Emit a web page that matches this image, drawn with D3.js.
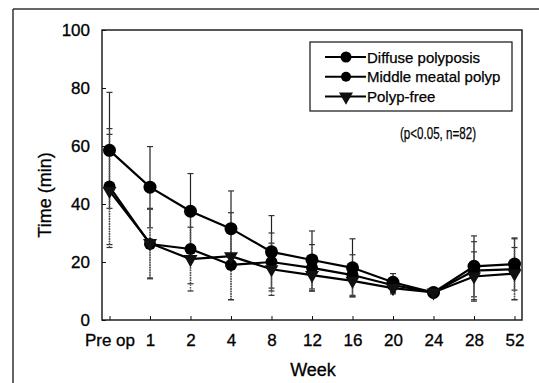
<!DOCTYPE html>
<html><head><meta charset="utf-8">
<script src="https://cdn.jsdelivr.net/npm/d3@7"></script>
<style>body{margin:0;background:#fff;} svg{display:block;}</style>
</head><body>
<svg id="c" width="539" height="383"></svg>
<script>
const categories = ["Pre op","1","2","4","8","12","16","20","24","28","52"];
const seriesNames = ["Diffuse polyposis","Middle meatal polyp","Polyp-free"];
const diffuseMean = [58.5,45.8,37.5,31.5,23.5,20.7,18,13,9.5,18.5,19.3];
const diffuseSD   = [20,14,13,13,12.5,10,10,3,0.3,10.5,9];
const middleMean  = [46,26.2,24.5,19,20,18,15.5,12,9.5,17,17.5];
const middleSD    = [20,12,12,12,10,8,7,2.5,0.3,10,10.5];
const freeMean    = [44.5,26.5,21,22,17.5,15.5,13.5,11,9.5,15,16];
const freeSD      = [19.5,12,11,15,9,5.5,5.5,2,0.3,8.5,9];
const yTicks = [0,20,40,60,80,100];
const annotation = "(p<0.05,  n=82)";

const font = "'Liberation Sans',Arial,sans-serif";
const svg = d3.select("#c");
const L=102,R=522,T=30,B=320;
const x = d3.scalePoint().domain(categories).range([L,R]).padding(0.185);
const y = d3.scaleLinear().domain([0,100]).range([B,T]);

// outer frame lines
svg.append("line").attr("x1",13).attr("x2",539).attr("y1",9).attr("y2",9).attr("stroke","#333").attr("stroke-width",1.5);
svg.append("line").attr("x1",13).attr("x2",13).attr("y1",9).attr("y2",383).attr("stroke","#333").attr("stroke-width",1.5);

// plot box
svg.append("rect").attr("x",L).attr("y",T).attr("width",R-L).attr("height",B-T).attr("fill","none").attr("stroke","#111").attr("stroke-width",1.4);

const yAxis = svg.append("g").attr("transform",`translate(${L},0)`)
  .call(d3.axisLeft(y).tickValues(yTicks).tickSize(-4).tickPadding(12));
yAxis.select(".domain").remove();
yAxis.selectAll("text").attr("font-family",font).attr("font-size",17).attr("fill","#000")
  .attr("stroke","#000").attr("stroke-width",0.3);
yAxis.selectAll("line").attr("stroke","#111");

const xAxis = svg.append("g").attr("transform",`translate(0,${B})`)
  .call(d3.axisBottom(x).tickSize(-4).tickPadding(14));
xAxis.select(".domain").remove();
xAxis.selectAll("text").attr("font-family",font).attr("font-size",17).attr("fill","#000")
  .attr("stroke","#000").attr("stroke-width",0.3);
xAxis.selectAll("line").attr("stroke","#111");

svg.append("text").attr("x",313).attr("y",376).attr("text-anchor","middle")
  .attr("font-family",font).attr("font-size",18).attr("stroke","#000").attr("stroke-width",0.3).text("Week");
svg.append("text").attr("transform","translate(51,195) rotate(-90)").attr("text-anchor","middle")
  .attr("font-family",font).attr("font-size",18).attr("stroke","#000").attr("stroke-width",0.3).text("Time (min)");

const series = [
  {name:seriesNames[0],mean:diffuseMean,sd:diffuseSD,shape:"circle",r:6.5,err:"solid"},
  {name:seriesNames[1],mean:middleMean,sd:middleSD,shape:"circle",r:6,err:"dot"},
  {name:seriesNames[2],mean:freeMean,sd:freeSD,shape:"tri",r:6,err:"dot"}
];

// error bars
series.forEach(s=>{
  const g = svg.append("g");
  categories.forEach((c,i)=>{
    const cx = x(c), lo=y(s.mean[i]-s.sd[i]), hi=y(s.mean[i]+s.sd[i]);
    g.append("line").attr("x1",cx).attr("x2",cx).attr("y1",lo).attr("y2",hi)
      .attr("stroke",s.err==="solid"?"#222":"#555").attr("stroke-width",s.err==="solid"?1.2:1.4)
      .attr("stroke-dasharray",s.err==="solid"?null:"1.5,1");
    [lo,hi].forEach(yy=>g.append("line").attr("x1",cx-3).attr("x2",cx+3).attr("y1",yy).attr("y2",yy)
      .attr("stroke","#333").attr("stroke-width",1.2));
  });
});

const line = d3.line().x((d,i)=>x(categories[i])).y(d=>y(d));
const triPath = d3.symbol().type(d3.symbolTriangle).size(85);
function marker(g,s,cx,cy){
  if(s.shape==="circle"){
    g.append("circle").attr("cx",cx).attr("cy",cy).attr("r",s.r).attr("fill","#000");
  } else {
    g.append("path").attr("d",triPath()).attr("transform",`translate(${cx},${cy}) rotate(180)`).attr("fill","#111");
  }
}
series.forEach(s=>{
  svg.append("path").datum(s.mean).attr("d",line).attr("fill","none").attr("stroke","#000").attr("stroke-width",2.2);
});
series.forEach(s=>{
  const g = svg.append("g");
  s.mean.forEach((v,i)=>marker(g,s,x(categories[i]),y(v)));
});

// legend
const lg = svg.append("g");
lg.append("rect").attr("x",310).attr("y",42).attr("width",202).attr("height",69).attr("fill","#fff").attr("stroke","#111").attr("stroke-width",1.2);
series.forEach((s,i)=>{
  const yy = 57 + i*19.8;
  lg.append("line").attr("x1",325).attr("x2",366).attr("y1",yy).attr("y2",yy).attr("stroke","#000").attr("stroke-width",2);
  marker(lg,{shape:s.shape,r:s.r-1},346,yy);
  lg.append("text").attr("x",367).attr("y",yy+5.5).attr("font-family",font).attr("font-size",15)
    .attr("stroke","#000").attr("stroke-width",0.25).text(s.name);
});
svg.append("text").attr("x",400).attr("y",139).attr("font-family",font).attr("font-size",17)
  .attr("stroke","#000").attr("stroke-width",0.25)
  .attr("textLength",76).attr("lengthAdjust","spacingAndGlyphs").text(annotation);
</script>
</body></html>
